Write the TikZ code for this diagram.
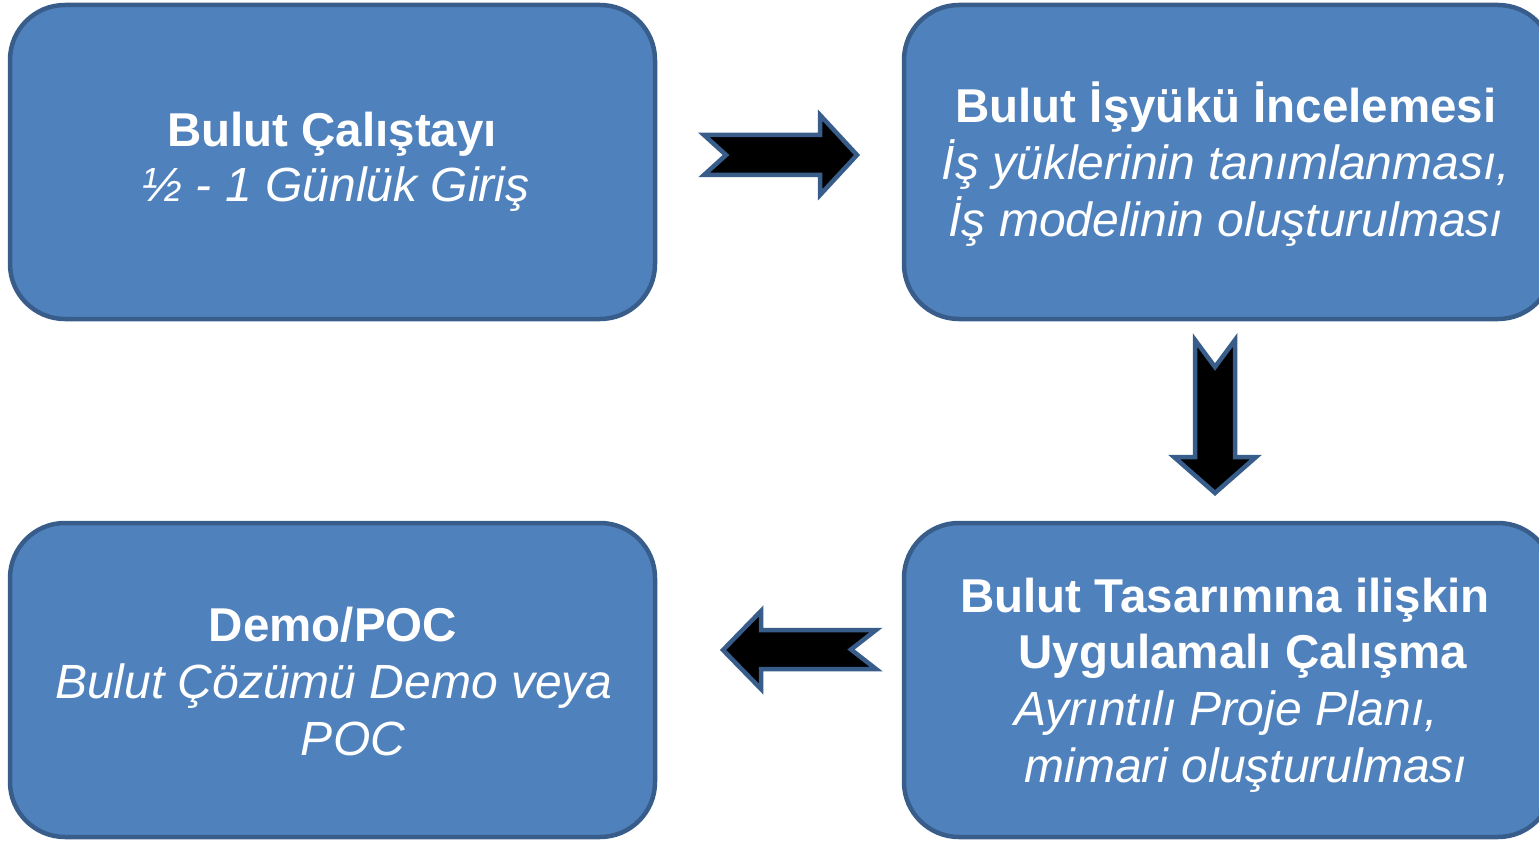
\documentclass[tikz,border=0pt]{standalone}
\usepackage{fontspec}
\setmainfont{Liberation Sans}
\definecolor{boxfill}{RGB}{79,129,189}
\definecolor{boxline}{RGB}{56,93,138}
\begin{document}
\begin{tikzpicture}[x=1pt,y=-1pt]
\tikzset{
  box/.style={draw=boxline, fill=boxfill, line width=4.5pt, rounded corners=55pt,
    minimum height=314pt, inner sep=0pt},
  ttl/.style={anchor=base, text=white, inner sep=0pt,
    font=\fontsize{47.5}{57}\selectfont\bfseries},
  sub/.style={anchor=base, text=white, inner sep=0pt,
    font=\fontsize{48}{57}\selectfont\itshape},
  blockarrow/.style={fill=black, draw=boxline, line width=4.5pt, line join=miter}
}
\useasboundingbox (0,0) rectangle (1539,842);
% boxes
\node[box, minimum width=645pt] (tl) at (332.5,162) {};
\node[box, minimum width=649pt] (tr) at (1228.5,162) {};
\node[box, minimum width=645pt] (bl) at (332.5,680) {};
\node[box, minimum width=649pt] (br) at (1228.5,680) {};
% block arrows
\draw[blockarrow] (704,135) -- (820,135) -- (820,115) -- (857,155) -- (820,195)
  -- (820,175) -- (704,175) -- (726,155) -- cycle;
\draw[blockarrow] (1195,340) -- (1215,367) -- (1235,340) -- (1235,457) -- (1256,457)
  -- (1215,493) -- (1174,457) -- (1195,457) -- cycle;
\draw[blockarrow] (876,630) -- (761,630) -- (761,611) -- (723,650) -- (761,689)
  -- (761,669) -- (876,669) -- (851,649.5) -- cycle;
% texts
\node[ttl] (tl1) at (332,147) {Bulut Çalıştayı};
\node[sub] (tl2) at (336,202) {½ - 1 Günlük Giriş};
\node[ttl] (tr1) at (1226,123) {Bulut İşyükü İncelemesi};
\node[sub] (tr2) at (1226,180) {İş yüklerinin tanımlanması,};
\node[sub] (tr3) at (1226,237) {İş modelinin oluşturulması};
\node[ttl] (bl1) at (333,641) {Demo/POC};
\node[sub] (bl2) at (334,698) {Bulut Çözümü Demo veya};
\node[sub] (bl3) at (353,755) {POC};
\node[ttl] (br1) at (1225,612) {Bulut Tasarımına ilişkin};
\node[ttl] (br2) at (1243,668) {Uygulamalı Çalışma};
\node[sub] (br3) at (1226,725) {Ayrıntılı Proje Planı,};
\node[sub] (br4) at (1246,782) {mimari oluşturulması};
\end{tikzpicture}
\end{document}
